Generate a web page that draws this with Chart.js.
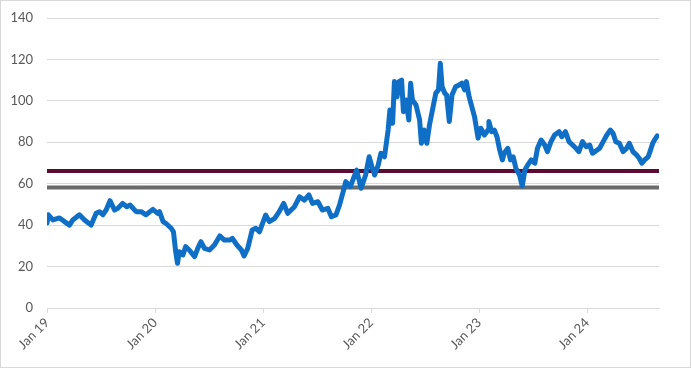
<!DOCTYPE html>
<html>
<head>
<meta charset="utf-8">
<script src="https://cdn.jsdelivr.net/npm/chart.js@4"></script>
<style>
  html, body { margin: 0; padding: 0; background: #fff; }
  #wrap { width: 691px; height: 368px; box-sizing: border-box; border: 1px solid #d9d9d9; }
  canvas { display: block; }
</style>
</head>
<body>
<div id="wrap"><canvas id="chart" width="689" height="366"></canvas></div>
<script>
// months since Jan 2019
var months = [0.0, 0.15, 0.65, 1.39, 1.94, 2.5, 2.87, 3.6, 4.17, 4.9, 5.46, 5.83, 6.2, 6.57, 7.0, 7.5, 7.87,
  8.4, 8.87, 9.24, 9.9, 10.46, 11.0, 11.76, 12.3, 12.5, 12.9, 13.2, 13.8, 14.05, 14.3, 14.5, 14.7, 15.1,
  15.4, 15.8, 16.4, 16.75, 17.1, 17.5, 18.05, 18.6, 19.2, 19.7, 20.3, 20.6, 21.1, 21.6, 21.9, 22.3, 22.8,
  23.2, 23.6, 24.3, 24.7, 25.3, 25.8, 26.3, 26.75, 27.5, 28.05, 28.6, 29.1, 29.5, 30.1, 30.6, 31.2, 31.6,
  32.1, 32.5, 32.9, 33.2, 33.7, 34.05, 34.4, 34.9, 35.4, 35.8, 36.1, 36.4, 36.8, 37.1, 37.5, 37.9, 38.1,
  38.4, 38.6, 38.9, 39.1, 39.4, 39.6, 39.9, 40.2, 40.4, 40.6, 41.0, 41.4, 41.6, 41.9, 42.2, 42.5, 42.9,
  43.2, 43.5, 43.7, 43.9, 44.2, 44.4, 44.7, 45.0, 45.4, 45.8, 46.1, 46.4, 46.6, 46.9, 47.1, 47.5, 47.9,
  48.2, 48.6, 49.0, 49.1, 49.4, 49.7, 50.0, 50.3, 50.6, 50.8, 51.2, 51.5, 51.8, 52.1, 52.5, 52.8, 53.1,
  53.4, 53.8, 54.2, 54.5, 54.9, 55.3, 55.6, 56.0, 56.4, 56.9, 57.2, 57.6, 58.0, 58.4, 58.8, 59.1, 59.5,
  59.9, 60.3, 60.6, 60.9, 61.4, 61.8, 62.2, 62.6, 62.9, 63.2, 63.6, 64.0, 64.4, 64.7, 65.1, 65.5, 65.8,
  66.1, 66.4, 66.8, 67.0, 67.3, 67.5, 67.8];

var price = [41, 45, 42.5, 43.5, 41.7, 40, 42.5, 45, 42.5, 40, 45.7, 46.5, 45, 47.3, 51.8, 47.3, 48.1,
  50.5, 48.9, 49.7, 46.5, 46.5, 45, 47.6, 45.7, 46.5, 41.7, 40.9, 38.5, 36.8, 27.2, 21.6, 27.2, 25.6,
  29.6, 28, 24.8, 28.8, 32, 28.8, 28, 30.4, 34.8, 32.8, 32.8, 33.6, 30.4, 28, 25.1, 28.8, 37.7,
  38.5, 36.8, 44.9, 41.7, 43.3, 46.5, 50.5, 45.7, 48.9, 53.7, 52.1, 54.6, 50.5, 51.3, 47.3, 48.1, 44.1,
  44.9, 49.7, 56.1, 61, 58.6, 62.6, 66.6, 57.8, 64.2, 73, 68.2, 64.2, 69, 74.7, 73, 85.9, 95.6,
  89.2, 109.3, 102, 109.3, 110, 94.8, 100.4, 90.8, 108.5, 100.4, 98, 90.8, 79.5, 85.9, 79.5, 88.4, 97.2,
  103.7, 105.3, 118.1, 106.8, 103.7, 102.8, 90, 102.8, 106.8, 107.7, 108.5, 105.3, 109.3, 102, 98.8, 92.4, 82,
  86.8, 83.5, 85.9, 90, 85.1, 85.9, 82.7, 76.3, 71.5, 74.7, 77.1, 71.5, 73, 67.4, 64.2, 58.9, 66.6,
  69, 71.5, 69.9, 77.1, 81.1, 78.7, 75.5, 80.3, 83.5, 85.1, 82.7, 85.1, 80.3, 78.7, 77, 75.5, 80.3,
  77.9, 78.7, 74.7, 75.5, 77.1, 80.3, 83.5, 85.9, 84.3, 80.3, 79.5, 75.5, 77.1, 79.5, 75.5, 73.9, 72.3,
  69.9, 71.5, 73, 75.5, 79.5, 81.1, 83.1];

var levelHigh = 66.1;
var levelLow = 58.2;
var xEnd = 68;

var tickMonths = [0, 12, 24, 36, 48, 60];
var tickLabels = ['Jan 19', 'Jan 20', 'Jan 21', 'Jan 22', 'Jan 23', 'Jan 24'];
var yMax = 140;
var yStep = 20;

var series = months.map(function (m, i) { return { x: m, y: price[i] }; });

var ctx = document.getElementById('chart').getContext('2d');
new Chart(ctx, {
  type: 'line',
  data: {
    datasets: [
      {
        data: series,
        borderColor: '#0f6fc6',
        borderWidth: 5,
        pointRadius: 0,
        tension: 0,
        borderJoinStyle: 'round',
        borderCapStyle: 'round'
      },
      {
        data: [{ x: 0, y: levelHigh }, { x: xEnd, y: levelHigh }],
        borderColor: '#5c0b33',
        borderWidth: 4,
        pointRadius: 0
      },
      {
        data: [{ x: 0, y: levelLow }, { x: xEnd, y: levelLow }],
        borderColor: '#6b6b6b',
        borderWidth: 4,
        pointRadius: 0
      }
    ]
  },
  options: {
    responsive: false,
    animation: false,
    layout: { padding: { top: 17, right: 31, left: 0, bottom: 0 } },
    plugins: { legend: { display: false }, tooltip: { enabled: false } },
    scales: {
      x: {
        type: 'linear',
        min: 0,
        max: xEnd,
        afterBuildTicks: function (scale) {
          scale.ticks = tickMonths.map(function (v) { return { value: v }; });
        },
        afterFit: function (scale) {
          scale.height = 59;
          scale.paddingLeft = 0;
          scale.paddingRight = 0;
        },
        grid: { drawOnChartArea: false, drawTicks: true, tickLength: 5, color: '#d9d9d9' },
        border: { display: true, color: '#d9d9d9' },
        ticks: {
          autoSkip: false,
          maxRotation: 45,
          minRotation: 45,
          padding: 2,
          color: '#595959',
          font: { family: 'Lato', size: 13 },
          callback: function (v) {
            var i = tickMonths.indexOf(v);
            return i >= 0 ? tickLabels[i] : '';
          }
        }
      },
      y: {
        min: 0,
        max: yMax,
        afterFit: function (scale) {
          scale.width = 46;
          scale.paddingTop = 0;
          scale.paddingBottom = 0;
        },
        grid: { color: '#d9d9d9', drawTicks: false },
        border: { display: false },
        ticks: {
          stepSize: yStep,
          padding: 14,
          color: '#595959',
          font: { family: 'Lato', size: 13 }
        }
      }
    }
  }
});
</script>
</body>
</html>
